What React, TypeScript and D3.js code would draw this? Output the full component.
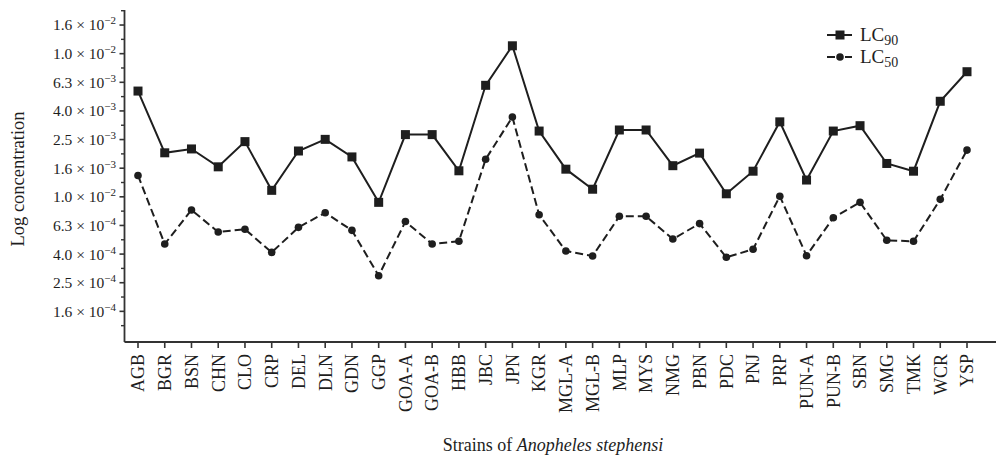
import React from "react";
import * as d3 from "d3";

const categories = ["AGB","BGR","BSN","CHN","CLO","CRP","DEL","DLN","GDN","GGP","GOA-A","GOA-B","HBB","JBC","JPN","KGR","MGL-A","MGL-B","MLP","MYS","NMG","PBN","PDC","PNJ","PRP","PUN-A","PUN-B","SBN","SMG","TMK","WCR","YSP"];

const lc90 = [5.48e-3,2.03e-3,2.16e-3,1.62e-3,2.43e-3,1.11e-3,2.09e-3,2.52e-3,1.90e-3,9.15e-4,2.72e-3,2.72e-3,1.52e-3,6.01e-3,1.135e-2,2.88e-3,1.56e-3,1.13e-3,2.93e-3,2.93e-3,1.65e-3,2.02e-3,1.05e-3,1.51e-3,3.34e-3,1.31e-3,2.88e-3,3.14e-3,1.71e-3,1.51e-3,4.65e-3,7.48e-3];

const lc50 = [1.41e-3,4.68e-4,8.09e-4,5.68e-4,5.93e-4,4.09e-4,6.12e-4,7.74e-4,5.83e-4,2.81e-4,6.72e-4,4.68e-4,4.89e-4,1.83e-3,3.61e-3,7.50e-4,4.18e-4,3.86e-4,7.31e-4,7.31e-4,5.07e-4,6.50e-4,3.78e-4,4.30e-4,1.01e-3,3.88e-4,7.14e-4,9.15e-4,4.97e-4,4.89e-4,9.60e-4,2.12e-3];

// y tick positions (log10 values) with printed labels (as shown in source, incl. its typo)
const yTickExps = [-1.8,-2.0,-2.2,-2.4,-2.6,-2.8,-3.0,-3.2,-3.4,-3.6,-3.8];
const yTickMantissas = ["1.6","1.0","6.3","4.0","2.5","1.6","1.0","6.3","4.0","2.5","1.6"];
const yTickPowers = ["−2","−2","−3","−3","−3","−3","−2","−4","−4","−4","−4"];
const yMinorExps = [-1.7,-1.9,-2.1,-2.3,-2.5,-2.7,-2.9,-3.1,-3.3,-3.5,-3.7,-3.9];

const legendLabels = ["LC", "LC"];
const legendSubs = ["90", "50"];

const FONT = "'Liberation Serif', 'DejaVu Serif', serif";
const INK = "#1e1e1e";

export default function App() {
  const W = 997, H = 458;
  const axisLeft = 124.5, axisBottom = 342, axisTop = 10, axisRight = 996;
  const x = d3.scalePoint<string>().domain(categories).range([138, 967]);
  const y = d3.scaleLog().domain([Math.pow(10, -4.012), Math.pow(10, -1.695)]).range([341.7, 10]);

  const line = d3.line<number>().x((_, i) => x(categories[i])!).y(d => y(d));

  return (
    <svg width={W} height={H} style={{ position: "absolute", left: 0, top: 0, background: "#fff" }} fontFamily={FONT}>
      {/* axes */}
      <line x1={axisLeft} x2={axisLeft} y1={axisTop} y2={axisBottom} stroke="#333" strokeWidth={1.8} />
      <line x1={axisLeft} x2={axisRight} y1={axisBottom} y2={axisBottom} stroke="#333" strokeWidth={1.8} />
      {yTickExps.map((e, i) => {
        const yy = y(Math.pow(10, e));
        return (
          <g key={"yt" + i}>
            <line x1={axisLeft - 5} x2={axisLeft} y1={yy} y2={yy} stroke="#333" strokeWidth={1.6} />
            <text x={116} y={yy} dy="0.35em" textAnchor="end" fontSize={15.5} fill={INK}>
              <tspan>{yTickMantissas[i] + " × 10"}</tspan>
              <tspan dy={-6} fontSize={11}>{yTickPowers[i]}</tspan>
            </text>
          </g>
        );
      })}
      {yMinorExps.map((e, i) => {
        const yy = y(Math.pow(10, e));
        return <line key={"ym" + i} x1={axisLeft - 3.5} x2={axisLeft} y1={yy} y2={yy} stroke="#333" strokeWidth={1.4} />;
      })}
      {categories.map(c => (
        <g key={"xt" + c}>
          <line x1={x(c)} x2={x(c)} y1={axisBottom} y2={axisBottom + 6} stroke="#333" strokeWidth={1.6} />
          <text transform={`translate(${x(c)},${axisBottom + 12}) rotate(-90)`} textAnchor="end" dy="0.35em" fontSize={18} fill={INK}>{c}</text>
        </g>
      ))}
      <text transform={`translate(24,179) rotate(-90)`} textAnchor="middle" fontSize={18.5} fill={INK}>Log concentration</text>
      <text x={553} y={451} textAnchor="middle" fontSize={18} fill={INK}>
        Strains of <tspan fontStyle="italic">Anopheles stephensi</tspan>
      </text>

      {/* series */}
      <path d={line(lc90)!} fill="none" stroke={INK} strokeWidth={2} />
      <path d={line(lc50)!} fill="none" stroke={INK} strokeWidth={2} strokeDasharray="8,4" />
      {lc90.map((v, i) => (
        <rect key={"s" + i} x={x(categories[i])! - 4.5} y={y(v) - 4.5} width={9} height={9} fill={INK} />
      ))}
      {lc50.map((v, i) => (
        <circle key={"c" + i} cx={x(categories[i])!} cy={y(v)} r={3.8} fill={INK} />
      ))}

      {/* legend */}
      <g>
        <line x1={827} x2={852} y1={35} y2={35} stroke={INK} strokeWidth={2} />
        <rect x={835.5} y={30.5} width={9} height={9} fill={INK} />
        <text x={860} y={41} fontSize={19} fill={INK}>{legendLabels[0]}<tspan dy={4} fontSize={14}>{legendSubs[0]}</tspan></text>
        <line x1={827} x2={835} y1={57} y2={57} stroke={INK} strokeWidth={2} />
        <line x1={845} x2={852} y1={57} y2={57} stroke={INK} strokeWidth={2} />
        <circle cx={840} cy={57} r={3.8} fill={INK} />
        <text x={860} y={63} fontSize={19} fill={INK}>{legendLabels[1]}<tspan dy={4} fontSize={14}>{legendSubs[1]}</tspan></text>
      </g>
    </svg>
  );
}
